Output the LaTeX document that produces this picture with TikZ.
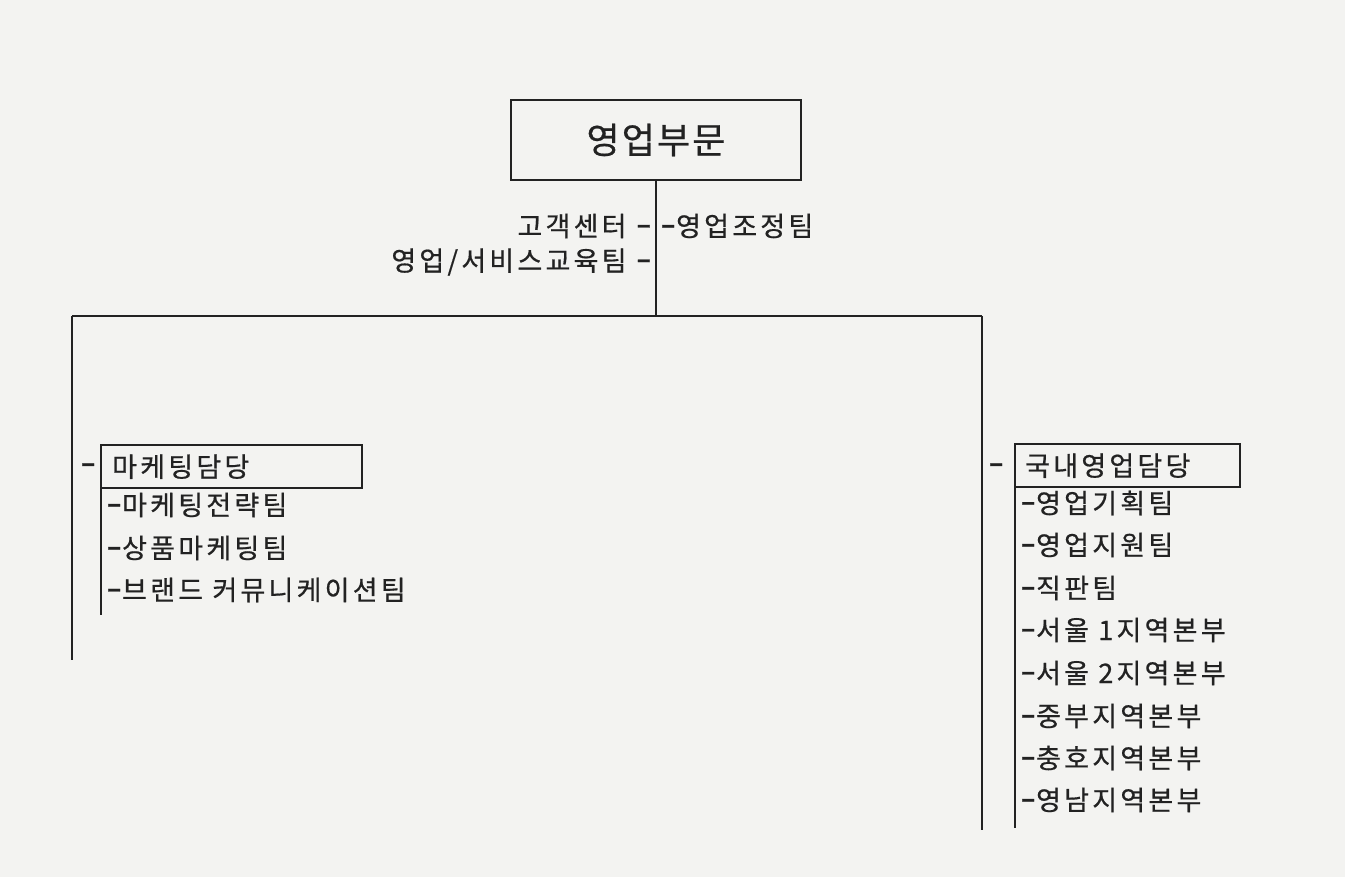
\documentclass[tikz,border=0pt]{standalone}
\usepackage{fontspec}
\setmainfont{Noto Sans CJK KR}
\newfontfamily\krsp[LetterSpace=12,FakeBold=0.6]{Noto Sans CJK KR}
\newfontfamily\krtop[LetterSpace=6,FakeBold=0.6]{Noto Sans CJK KR}
\newcommand{\hy}{\scalebox{1.7}[1.3]{-}}
\definecolor{paper}{HTML}{F3F3F1}
\definecolor{ink}{HTML}{222222}
\begin{document}
\begin{tikzpicture}[x=1pt,y=-1pt,
  line/.style={draw=ink,line width=2.4pt},
  item/.style={inner sep=0pt,text=ink,font=\krsp\fontsize{27}{30}\selectfont},
  headbox/.style={draw=ink,line width=2.4pt,anchor=north west,inner xsep=10pt,
     align=left,text=ink,font=\krsp\fontsize{27}{30}\selectfont}]
\path[fill=paper] (0,0) rectangle (1345,877);
% top
\node[draw=ink,line width=2.4pt,minimum width=290pt,minimum height=80pt,text=ink,
  font=\krtop\fontsize{36}{40}\selectfont] (top) at (656,140) {영업부문};
\coordinate (j) at (656,316);
\coordinate (L) at (72,316);
\coordinate (R) at (982,316);
\coordinate (Lend) at (72,660);
\coordinate (Rend) at (982,830);
\draw[line] (top.south) -- (j);
\draw[line] (L) -- (R);
\draw[line] (L) -- (Lend);
\draw[line] (R) -- (Rend);
\node[item,anchor=east] (cc) at (652,226) {고객센터 \hy};
\node[item,anchor=east] (edu) at (652,262) {영업/서비스교육팀 \hy};
\node[item,anchor=west] (adj) at (660,226) {\hy 영업조정팀};
% left branch
\node[item,anchor=west] (ldash) at (80,469) {\hy};
\node[headbox,minimum width=261pt,minimum height=43pt,text width=239pt] (mk) at (100,444) {마케팅담당};
\coordinate (mkend) at (101,615);
\draw[line] (mk.south west) ++(1,0) -- (mkend);
\node[item,anchor=west] (m1) at (106,505) {\hy 마케팅전략팀};
\node[item,anchor=west] (m2) at (106,548) {\hy 상품마케팅팀};
\node[item,anchor=west] (m3) at (106,590) {\hy 브랜드 커뮤니케이션팀};
% right branch
\node[item,anchor=west] (rdash) at (988,469) {\hy};
\node[headbox,minimum width=225pt,minimum height=43pt,text width=205pt] (dm) at (1014,443) {국내영업담당};
\coordinate (dmend) at (1015,828);
\draw[line] (dm.south west) ++(1,0) -- (dmend);
\node[item,anchor=west] (d1) at (1020,503) {\hy 영업기획팀};
\node[item,anchor=west] (d2) at (1020,545) {\hy 영업지원팀};
\node[item,anchor=west] (d3) at (1020,588) {\hy 직판팀};
\node[item,anchor=west] (d4) at (1020,630) {\hy 서울 1지역본부};
\node[item,anchor=west] (d5) at (1020,673) {\hy 서울 2지역본부};
\node[item,anchor=west] (d6) at (1020,716) {\hy 중부지역본부};
\node[item,anchor=west] (d7) at (1020,758) {\hy 충호지역본부};
\node[item,anchor=west] (d8) at (1020,800) {\hy 영남지역본부};
\end{tikzpicture}
\end{document}
